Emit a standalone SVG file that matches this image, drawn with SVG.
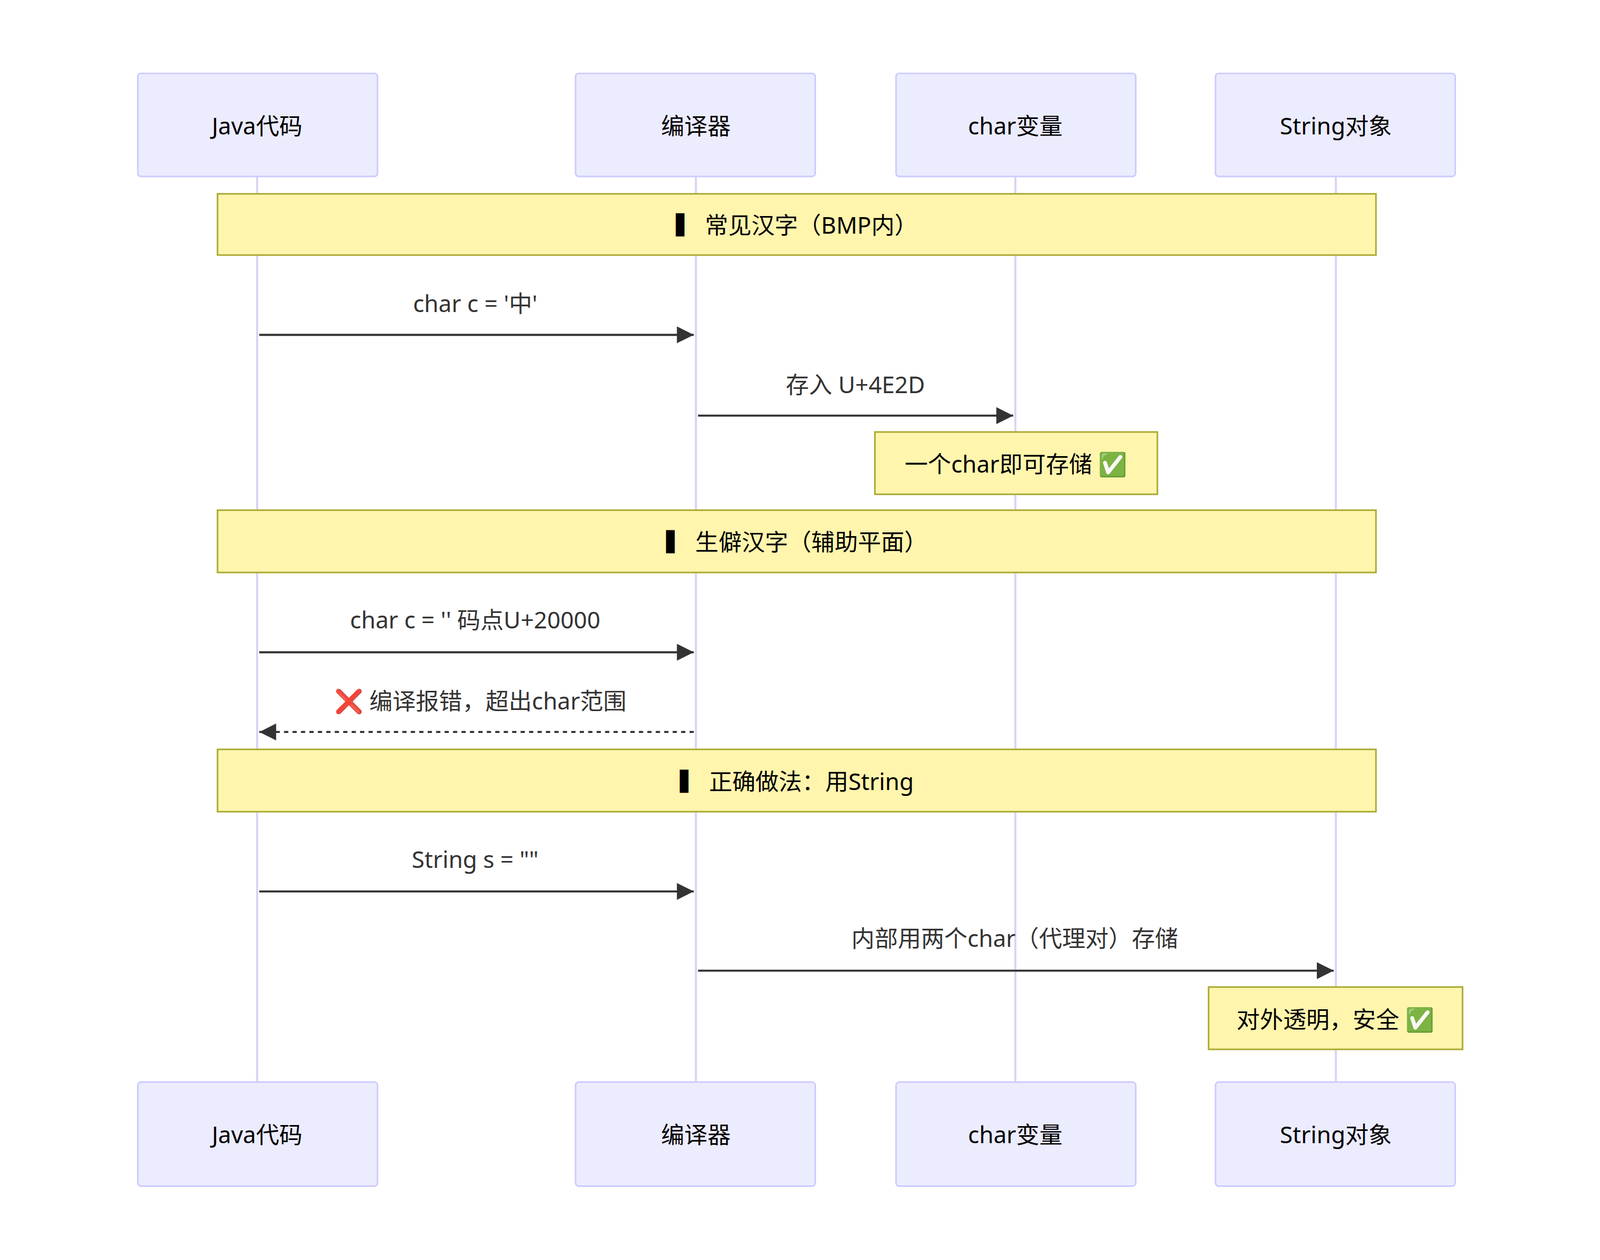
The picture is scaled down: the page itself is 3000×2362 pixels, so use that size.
<svg xmlns="http://www.w3.org/2000/svg" width="3000" height="2362" viewBox="0 0 3000 2362">
<style>
text{font-family:"Noto Sans","Noto Sans CJK SC",sans-serif;font-size:44px;fill:#333;text-anchor:middle;dominant-baseline:central}
.ext{font-family:"Noto Sans CJK SC","Noto Sans CJK TC","Noto Sans CJK JP","Noto Sans CJK KR","DejaVu Sans",sans-serif}
.actor{fill:#ECECFF;stroke:#CCCCFF;stroke-width:3}
.actor-t{fill:#000}
.life{stroke:#DCD2F5;stroke-width:4}
.sec{fill:#FFF5AD;stroke:#AAAA33;stroke-width:3}
.msg{stroke:#333;stroke-width:4;fill:none}
.dash{stroke-dasharray:8,8}
.st{fill:#000}
</style>
<defs>
<marker id="ab" viewBox="0 0 12 12" refX="12" refY="6" markerWidth="32" markerHeight="32" markerUnits="userSpaceOnUse" orient="auto-start-reverse"><path d="M0,0L12,6L0,12z" fill="#333"/></marker>
</defs>
<rect width="3000" height="2362" fill="#fff"/>
<g transform="scale(0.99)">
<g id="lifelines">
<line class="life" x1="487" y1="334" x2="487" y2="2049"/>
<line class="life" x1="1318" y1="334" x2="1318" y2="2049"/>
<line class="life" x1="1923" y1="334" x2="1923" y2="2049"/>
<line class="life" x1="2530" y1="334" x2="2530" y2="2049"/>
</g>
<g id="actor-java-top"><rect class="actor" x="261" y="139" width="454" height="195" rx="6"/><text class="actor-t" x="487" y="237">Java代码</text></g>
<g id="actor-compiler-top"><rect class="actor" x="1090" y="139" width="454" height="195" rx="6"/><text class="actor-t" x="1318" y="237">编译器</text></g>
<g id="actor-char-top"><rect class="actor" x="1697" y="139" width="454" height="195" rx="6"/><text class="actor-t" x="1923" y="237">char变量</text></g>
<g id="actor-string-top"><rect class="actor" x="2302" y="139" width="454" height="195" rx="6"/><text class="actor-t" x="2530" y="237">String对象</text></g>
<g id="actor-java-bottom"><rect class="actor" x="261" y="2049" width="454" height="197" rx="6"/><text class="actor-t" x="487" y="2147">Java代码</text></g>
<g id="actor-compiler-bottom"><rect class="actor" x="1090" y="2049" width="454" height="197" rx="6"/><text class="actor-t" x="1318" y="2147">编译器</text></g>
<g id="actor-char-bottom"><rect class="actor" x="1697" y="2049" width="454" height="197" rx="6"/><text class="actor-t" x="1923" y="2147">char变量</text></g>
<g id="actor-string-bottom"><rect class="actor" x="2302" y="2049" width="454" height="197" rx="6"/><text class="actor-t" x="2530" y="2147">String对象</text></g>
<g id="section1"><rect class="sec" x="412" y="367" width="2194" height="116"/><text class="st" x="1509" y="425">▍ 常见汉字（BMP内）</text></g>
<g id="section2"><rect class="sec" x="412" y="966" width="2194" height="118"/><text class="st" x="1509" y="1025">▍ 生僻汉字（辅助平面）</text></g>
<g id="section3"><rect class="sec" x="412" y="1419" width="2194" height="118"/><text class="st" x="1509" y="1479">▍ 正确做法：用String</text></g>
<g id="note1"><rect class="sec" x="1657" y="818" width="535" height="118"/><text class="st" x="1924" y="878">一个char即可存储 ✅</text></g>
<g id="note2"><rect class="sec" x="2289" y="1869" width="481" height="118"/><text class="st" x="2529" y="1929">对外透明，安全 ✅</text></g>
<g id="connectors">
<line class="msg" x1="491" y1="634" x2="1314" y2="634" marker-end="url(#ab)"/>
<text x="900" y="574">char c = '中'</text>
<line class="msg" x1="1322" y1="787" x2="1919" y2="787" marker-end="url(#ab)"/>
<text x="1620" y="727">存入 U+4E2D</text>
<line class="msg" x1="491" y1="1235" x2="1314" y2="1235" marker-end="url(#ab)"/>
<text x="900" y="1173">char c = '<tspan class="ext">𠀀</tspan>' 码点U+20000</text>
<line class="msg dash" x1="1314" y1="1386" x2="491" y2="1386" marker-end="url(#ab)"/>
<text x="910" y="1326">❌ 编译报错，超出char范围</text>
<line class="msg" x1="491" y1="1688" x2="1314" y2="1688" marker-end="url(#ab)"/>
<text x="900" y="1626">String s = "<tspan class="ext">𠀀</tspan>"</text>
<line class="msg" x1="1322" y1="1838" x2="2526" y2="1838" marker-end="url(#ab)"/>
<text x="1922" y="1776">内部用两个char（代理对）存储</text>
</g>
</g>
</svg>
